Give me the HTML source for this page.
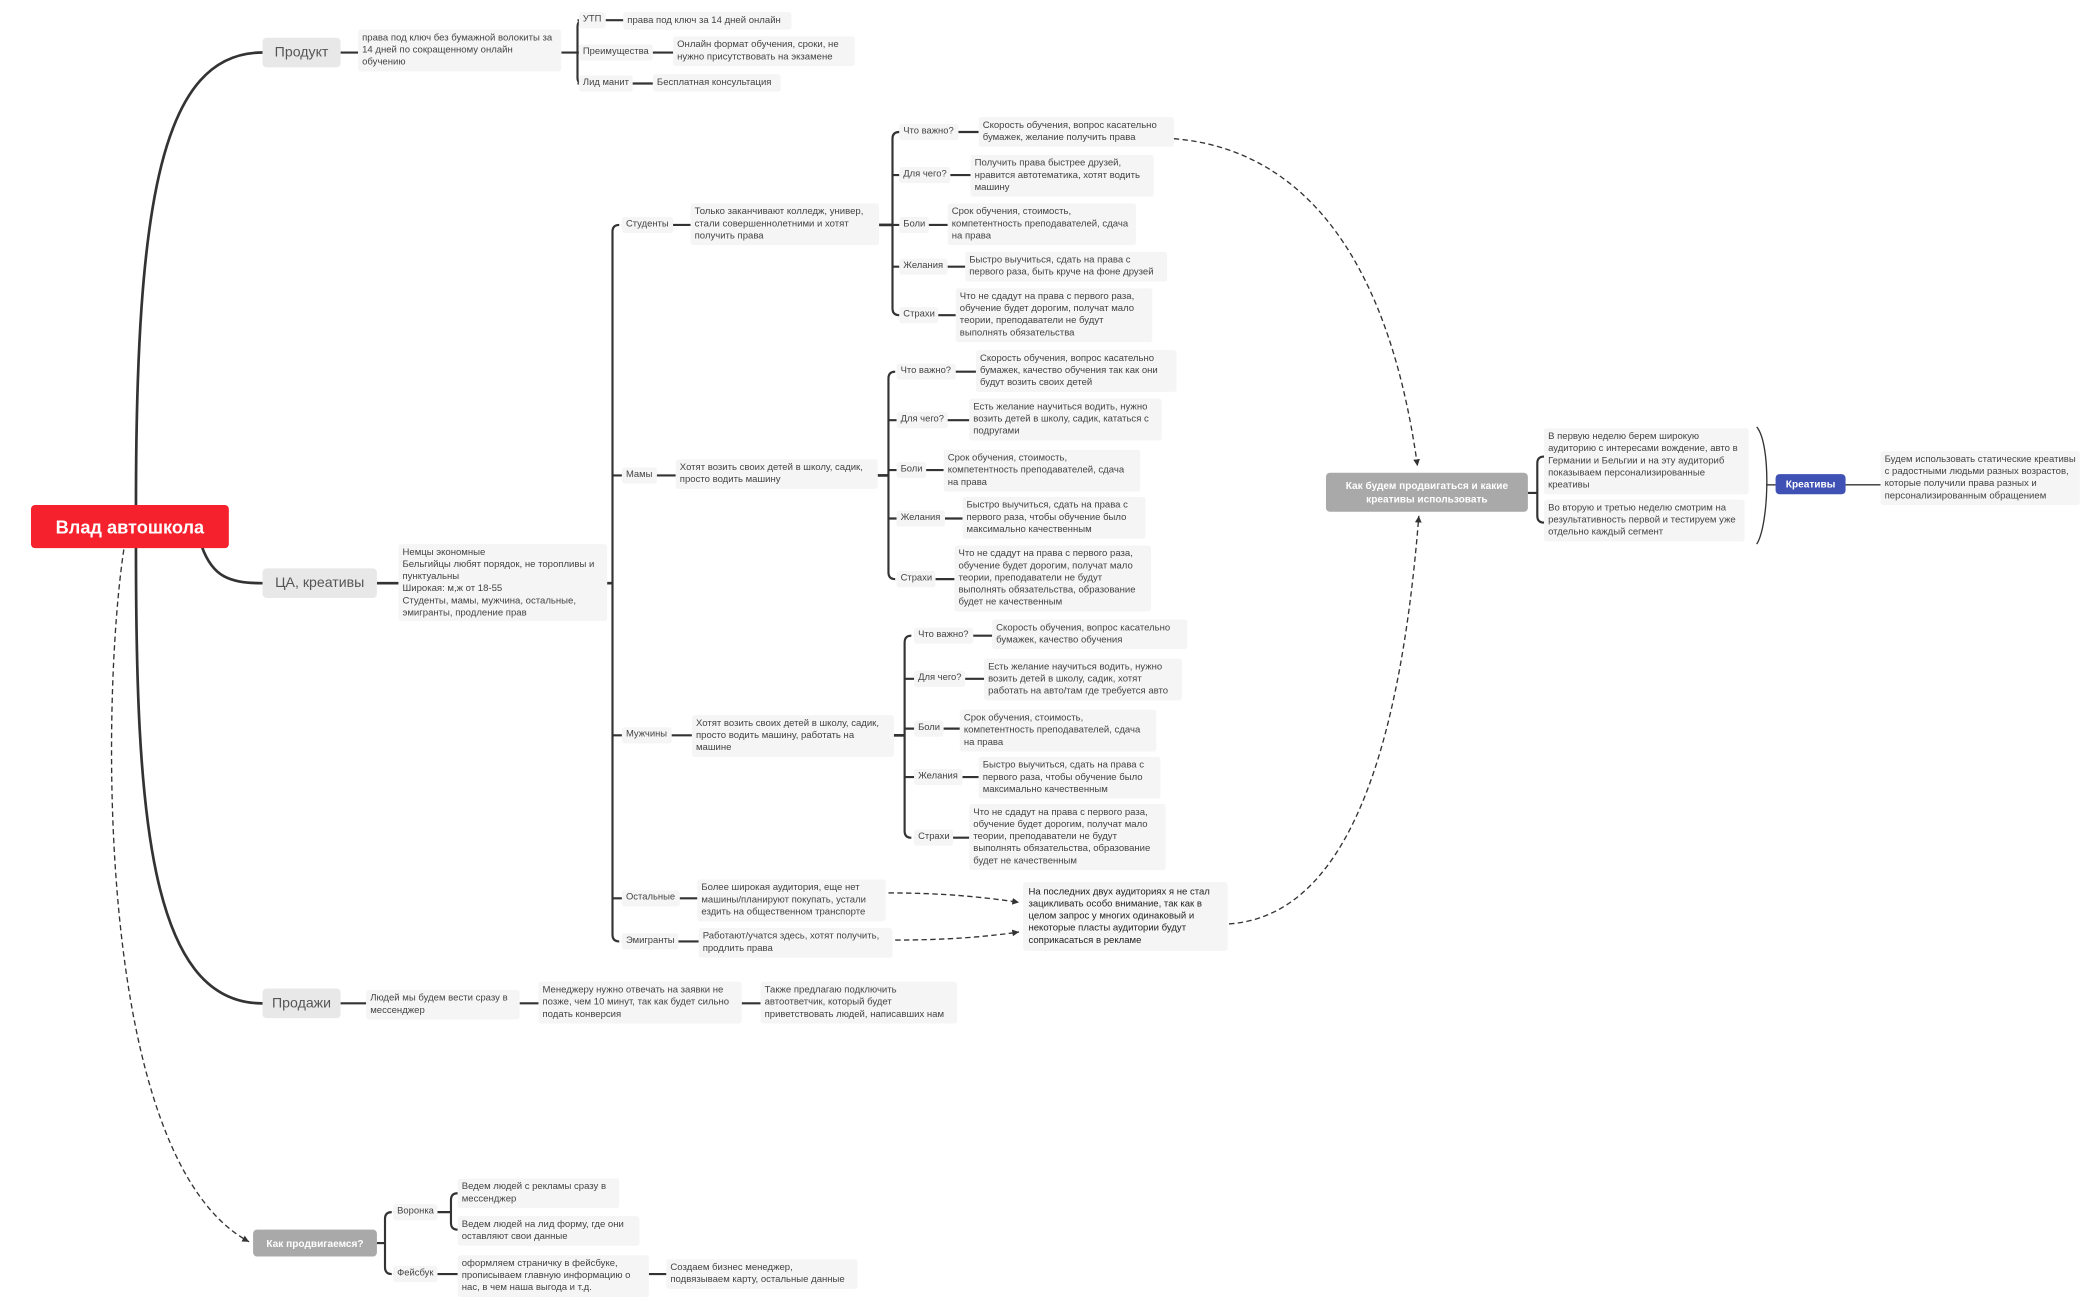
<!DOCTYPE html>
<html><head><meta charset="utf-8">
<style>
html,body{margin:0;padding:0;background:#fff;width:2100px;height:1301px;overflow:hidden}
#c{position:absolute;left:0;top:0;width:1560px;height:966px;transform-origin:0 0;transform:scale(1.34615,1.34679);font-family:"Liberation Sans","DejaVu Sans",sans-serif}
.n{position:absolute;background:#f5f5f5;color:#444;font-size:7.1px;line-height:8.9px;padding:2px 3px;border-radius:2px;box-sizing:border-box}
.l{position:absolute;background:#f5f5f5;color:#444;font-size:7px;line-height:12px;height:12px;padding:0 3px;border-radius:2px;white-space:nowrap}
.m{position:absolute;background:#e8e8e8;color:#555;font-size:10.5px;border-radius:3px;display:flex;align-items:center;justify-content:center}
svg{position:absolute;left:0;top:0}
</style></head><body><div id="c">
<svg width="1560" height="966" viewBox="0 0 1560 966" fill="none" stroke="#333" stroke-width="1.6">
<defs><marker id="a" markerWidth="6" markerHeight="6" refX="5" refY="3" orient="auto"><path d="M0,0.5 L5,3 L0,5.5z" fill="#333" stroke="none"/></marker></defs>
<path d="M101,376 C101,150 120,39 195,39" stroke-width="2"/>
<path d="M150,406 C158,428 170,433 195,433" stroke-width="2"/>
<path d="M101,406 C101,600 110,745 195,745" stroke-width="2"/>
<path d="M253,39 H266 M417,39 H430"/>
<path d="M434,15 Q429,15 429,20 V58 Q429,62 434,62"/>
<path d="M429,15 H463 M429,39 H500 M429,62 H485"/>
<path d="M280,433 H296 M451,433 H455" stroke-width="2"/>
<path d="M460,167 Q455,167 455,172 V694 Q455,699 460,699"/>
<path d="M455,353 H462 M455,546 H462 M455,667 H462"/>
<path d="M462,167 H513 M462,353 H502 M462,546 H514 M462,667 H518 M462,699 H519"/>
<path d="M653,167 H663" stroke-width="2"/>
<path d="M668,98 Q663,98 663,103 V229 Q663,234 668,234"/>
<path d="M663,130 H668 M663,167 H668 M663,198 H668"/>
<path d="M668,98 H727 M668,130 H721 M668,167 H704 M668,198 H717 M668,234 H710"/>
<path d="M652,353 H660" stroke-width="2"/>
<path d="M665,276 Q660,276 660,281 V425 Q660,430 665,430"/>
<path d="M660,312 H666 M660,349 H666 M660,385 H666"/>
<path d="M666,276 H725 M666,312 H720 M666,349 H701 M666,385 H715 M666,430 H709"/>
<path d="M664,546 H672" stroke-width="2"/>
<path d="M677,472 Q672,472 672,477 V617 Q672,622 677,622"/>
<path d="M672,504 H679 M672,541 H679 M672,577 H679"/>
<path d="M679,472 H737 M679,504 H731 M679,541 H713 M679,577 H727 M679,622 H720"/>
<g stroke-dasharray="4,2.5" stroke-width="1">
<path d="M872,103 C960,110 1030,180 1053,346" marker-end="url(#a)"/>
<path d="M913,686 C1000,680 1040,560 1054,383" marker-end="url(#a)"/>
<path d="M660,663 C700,663 730,666 757,670" marker-end="url(#a)"/>
<path d="M665,698 C700,698 730,696 757,692" marker-end="url(#a)"/>
<path d="M92,408 C75,520 70,860 185,922" marker-end="url(#a)"/>
</g>
<path d="M1135,366 H1142" stroke-width="1.6"/>
<path d="M1147,339 Q1142,339 1142,344 V383 Q1142,388 1147,388"/>
<path d="M1305,317 C1316,330 1314,390 1305,404" stroke-width="1"/>
<path d="M1312,360 H1319" stroke-width="1"/>
<path d="M1371,360 H1397" stroke-width="1"/>
<path d="M253,745 H272 M386,745 H400 M551,745 H565"/>
<path d="M280,923 H286"/>
<path d="M291,900 Q286,900 286,905 V941 Q286,946 291,946"/>
<path d="M292,900 H335 M292,946 H340 M482,946 H495"/>
<path d="M340,886 Q335,886 335,891 V908 Q335,913 340,913"/>
</svg>

<div style="position:absolute;left:23px;top:375px;width:147px;height:32px;background:#f5222d;border-radius:3px;color:#fff;font-weight:bold;font-size:13.5px;display:flex;align-items:center;justify-content:center">Влад автошкола</div>

<div class="m" style="left:195px;top:28px;width:58px;height:22px">Продукт</div>
<div class="m" style="left:195px;top:422px;width:85px;height:22px">ЦА, креативы</div>
<div class="m" style="left:195px;top:734px;width:58px;height:22px">Продажи</div>
<div class="m" style="left:188px;top:913px;width:92px;height:20px;background:#a9a9a9;color:#fff;font-weight:bold;font-size:7.5px">Как продвигаемся?</div>

<div class="n" style="left:266px;top:22px;width:151px">права под ключ без бумажной волокиты за 14 дней по сокращенному онлайн обучению</div>
<div class="l" style="left:430px;top:9px">УТП</div>
<div class="n" style="left:463px;top:9px;width:125px">права под ключ за 14 дней онлайн</div>
<div class="l" style="left:430px;top:33px">Преимущества</div>
<div class="n" style="left:500px;top:27px;width:135px">Онлайн формат обучения, сроки, не нужно присутствовать на экзамене</div>
<div class="l" style="left:430px;top:56px">Лид манит</div>
<div class="n" style="left:485px;top:55px;width:95px">Бесплатная консультация</div>

<div class="n" style="left:296px;top:404px;width:155px">Немцы экономные<br>Бельгийцы любят порядок, не торопливы и пунктуальны<br>Широкая: м,ж от 18-55<br>Студенты, мамы, мужчина, остальные, эмигранты, продление прав</div>

<div class="l" style="left:462px;top:161px">Студенты</div>
<div class="n" style="left:513px;top:151px;width:140px">Только заканчивают колледж, универ, стали совершеннолетними и хотят получить права</div>
<div class="l" style="left:668px;top:92px">Что важно?</div>
<div class="n" style="left:727px;top:87px;width:145px">Скорость обучения, вопрос касательно бумажек, желание получить права</div>
<div class="l" style="left:668px;top:124px">Для чего?</div>
<div class="n" style="left:721px;top:115px;width:136px">Получить права быстрее друзей, нравится автотематика, хотят водить машину</div>
<div class="l" style="left:668px;top:161px">Боли</div>
<div class="n" style="left:704px;top:151px;width:140px">Срок обучения, стоимость, компетентность преподавателей, сдача на права</div>
<div class="l" style="left:668px;top:192px">Желания</div>
<div class="n" style="left:717px;top:187px;width:150px">Быстро выучиться, сдать на права с первого раза, быть круче на фоне друзей</div>
<div class="l" style="left:668px;top:228px">Страхи</div>
<div class="n" style="left:710px;top:214px;width:146px">Что не сдадут на права с первого раза, обучение будет дорогим, получат мало теории, преподаватели не будут выполнять обязательства</div>

<div class="l" style="left:462px;top:347px">Мамы</div>
<div class="n" style="left:502px;top:341px;width:150px">Хотят возить своих детей в школу, садик, просто водить машину</div>
<div class="l" style="left:666px;top:270px">Что важно?</div>
<div class="n" style="left:725px;top:260px;width:149px">Скорость обучения, вопрос касательно бумажек, качество обучения так как они будут возить своих детей</div>
<div class="l" style="left:666px;top:306px">Для чего?</div>
<div class="n" style="left:720px;top:296px;width:143px">Есть желание научиться водить, нужно возить детей в школу, садик, кататься с подругами</div>
<div class="l" style="left:666px;top:343px">Боли</div>
<div class="n" style="left:701px;top:334px;width:146px">Срок обучения, стоимость, компетентность преподавателей, сдача на права</div>
<div class="l" style="left:666px;top:379px">Желания</div>
<div class="n" style="left:715px;top:369px;width:136px">Быстро выучиться, сдать на права с первого раза, чтобы обучение было максимально качественным</div>
<div class="l" style="left:666px;top:424px">Страхи</div>
<div class="n" style="left:709px;top:405px;width:146px">Что не сдадут на права с первого раза, обучение будет дорогим, получат мало теории, преподаватели не будут выполнять обязательства, образование будет не качественным</div>

<div class="l" style="left:462px;top:540px">Мужчины</div>
<div class="n" style="left:514px;top:531px;width:150px">Хотят возить своих детей в школу, садик, просто водить машину, работать на машине</div>
<div class="l" style="left:679px;top:466px">Что важно?</div>
<div class="n" style="left:737px;top:460px;width:145px">Скорость обучения, вопрос касательно бумажек, качество обучения</div>
<div class="l" style="left:679px;top:498px">Для чего?</div>
<div class="n" style="left:731px;top:489px;width:147px">Есть желание научиться водить, нужно возить детей в школу, садик, хотят работать на авто/там где требуется авто</div>
<div class="l" style="left:679px;top:535px">Боли</div>
<div class="n" style="left:713px;top:527px;width:146px">Срок обучения, стоимость, компетентность преподавателей, сдача на права</div>
<div class="l" style="left:679px;top:571px">Желания</div>
<div class="n" style="left:727px;top:562px;width:135px">Быстро выучиться, сдать на права с первого раза, чтобы обучение было максимально качественным</div>
<div class="l" style="left:679px;top:616px">Страхи</div>
<div class="n" style="left:720px;top:597px;width:146px">Что не сдадут на права с первого раза, обучение будет дорогим, получат мало теории, преподаватели не будут выполнять обязательства, образование будет не качественным</div>

<div class="l" style="left:462px;top:661px">Остальные</div>
<div class="n" style="left:518px;top:653px;width:140px">Более широкая аудитория, еще нет машины/планируют покупать, устали ездить на общественном транспорте</div>
<div class="l" style="left:462px;top:693px">Эмигранты</div>
<div class="n" style="left:519px;top:689px;width:144px">Работают/учатся здесь, хотят получить, продлить права</div>
<div class="n" style="left:760px;top:655px;width:152px;color:#222;padding:3px 4px">На последних двух аудиториях  я не стал зацикливать особо внимание, так как в целом запрос у многих одинаковый и некоторые пласты аудитории будут соприкасаться в рекламе</div>

<div class="m" style="left:985px;top:351px;width:150px;height:29px;background:#a9a9a9;color:#fff;font-weight:bold;font-size:7.5px;line-height:9.5px;text-align:center">Как будем продвигаться и какие<br>креативы использовать</div>
<div class="n" style="left:1147px;top:318px;width:152px">В первую неделю берем широкую аудиторию с интересами вождение, авто в Германии и Бельгии и на эту аудиториб показываем персонализированные креативы</div>
<div class="n" style="left:1147px;top:371px;width:149px">Во вторую и третью неделю смотрим на результативность первой и тестируем уже отдельно каждый сегмент</div>
<div class="m" style="left:1319px;top:352px;width:52px;height:15px;background:#3f51b5;color:#fff;font-weight:bold;font-size:7.5px">Креативы</div>
<div class="n" style="left:1397px;top:335px;width:148px">Будем использовать статические креативы с радостными людьми разных возрастов, которые получили права разных и персонализированным обращением</div>

<div class="n" style="left:272px;top:735px;width:114px">Людей мы будем вести сразу в мессенджер</div>
<div class="n" style="left:400px;top:729px;width:151px">Менеджеру нужно отвечать на заявки не позже, чем 10 минут, так как будет сильно подать конверсия</div>
<div class="n" style="left:565px;top:729px;width:146px">Также предлагаю подключить автоответчик, который будет приветствовать людей, написавших нам</div>

<div class="l" style="left:292px;top:894px">Воронка</div>
<div class="l" style="left:292px;top:940px">Фейсбук</div>
<div class="n" style="left:340px;top:875px;width:120px">Ведем людей с рекламы сразу в мессенджер</div>
<div class="n" style="left:340px;top:903px;width:135px">Ведем людей на лид форму, где они оставляют свои данные</div>
<div class="n" style="left:340px;top:932px;width:142px">оформляем страничку в фейсбуке, прописываем главную информацию о нас, в чем наша выгода и т.д.</div>
<div class="n" style="left:495px;top:935px;width:142px">Создаем бизнес менеджер, подвязываем карту, остальные данные</div>
</div></body></html>
